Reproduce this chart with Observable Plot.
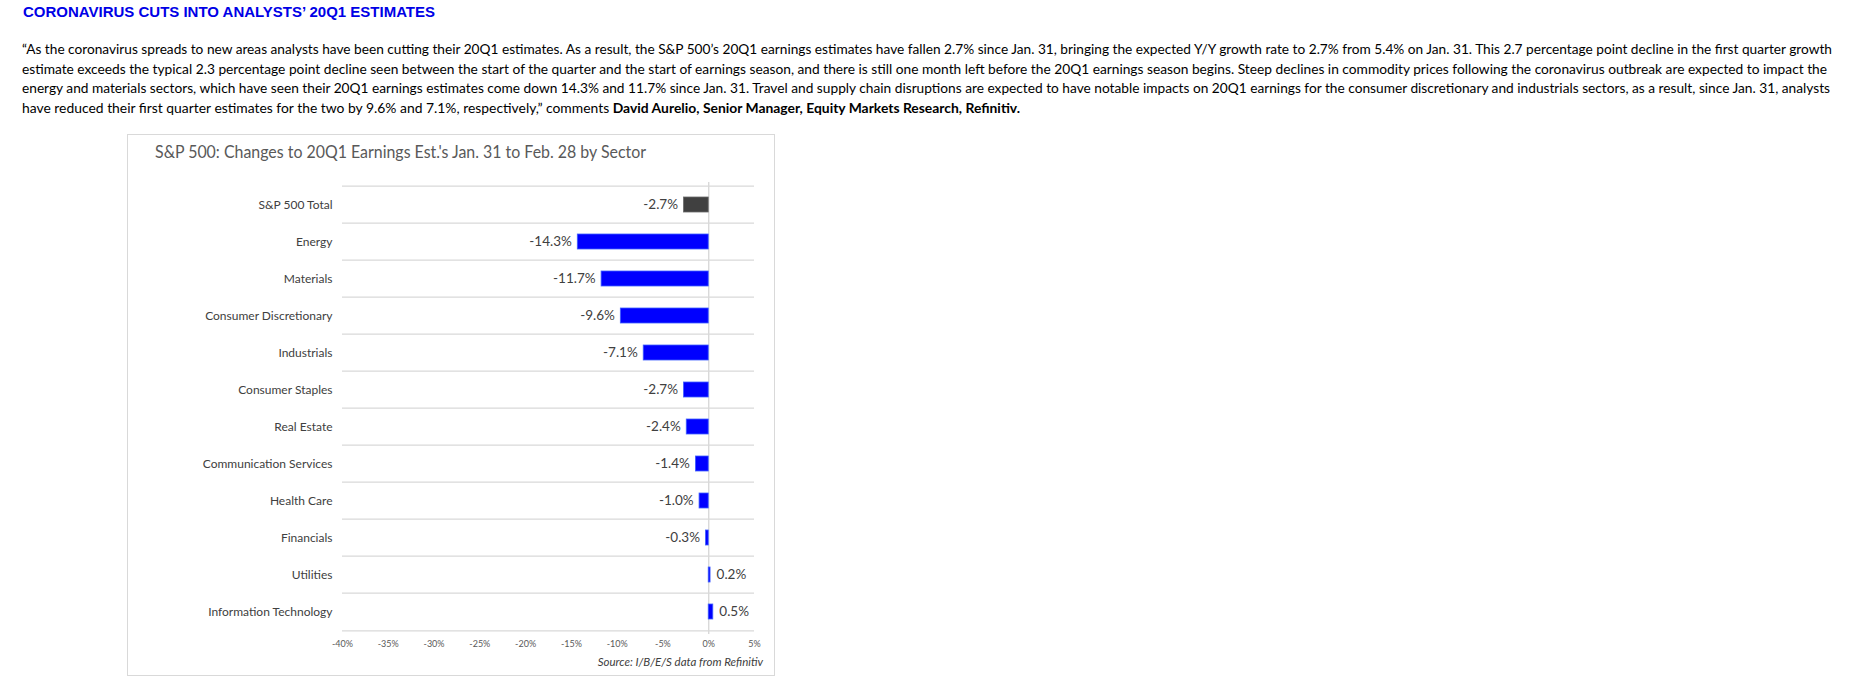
<!DOCTYPE html>
<html>
<head>
<meta charset="utf-8">
<script src="https://cdn.jsdelivr.net/npm/d3@7"></script>
<script src="https://cdn.jsdelivr.net/npm/@observablehq/plot@0.6"></script>
<style>
  html, body { margin: 0; padding: 0; background: #fff; }
  body { width: 1864px; height: 678px; position: relative; overflow: hidden; font-family: Lato, "Noto Sans", sans-serif; }
  #headline { position: absolute; left: 23px; top: 3px; font-family: "Liberation Sans", Arial, sans-serif; font-weight: bold; font-size: 15px; line-height: 17px; color: #0000e6; white-space: nowrap; }
  #para { position: absolute; left: 22px; top: 39px; font-size: 13.8px; line-height: 19.5px; color: #000; }
  .ln { white-space: nowrap; height: 19.5px; }
  .ln span { display: inline-block; transform-origin: 0 50%; }
  #box { position: absolute; left: 127px; top: 134px; width: 648px; height: 542px; box-sizing: border-box; border: 1px solid #d9d9d9; }
  #ctitle { position: absolute; left: 27px; top: 6px; font-size: 17px; line-height: 22px; color: #595959; white-space: nowrap; }
  #ctitle span { display: inline-block; transform-origin: 0 50%; }
  #chart { position: absolute; left: 0; top: 0; }
  #source { position: absolute; right: 11px; top: 520px; font-size: 11.5px; line-height: 13px; font-style: italic; color: #404040; white-space: nowrap; }
</style>
</head>
<body>
<div id="headline"><span>CORONAVIRUS CUTS INTO ANALYSTS’ 20Q1 ESTIMATES</span></div>
<div id="para">
  <div class="ln" data-w="1810"><span>“As the coronavirus spreads to new areas analysts have been cutting their 20Q1 estimates. As a result, the S&amp;P 500’s 20Q1 earnings estimates have fallen 2.7% since Jan. 31, bringing the expected Y/Y growth rate to 2.7% from 5.4% on Jan. 31. This 2.7 percentage point decline in the first quarter growth</span></div>
  <div class="ln" data-w="1805"><span>estimate exceeds the typical 2.3 percentage point decline seen between the start of the quarter and the start of earnings season, and there is still one month left before the 20Q1 earnings season begins. Steep declines in commodity prices following the coronavirus outbreak are expected to impact the</span></div>
  <div class="ln" data-w="1808"><span>energy and materials sectors, which have seen their 20Q1 earnings estimates come down 14.3% and 11.7% since Jan. 31. Travel and supply chain disruptions are expected to have notable impacts on 20Q1 earnings for the consumer discretionary and industrials sectors, as a result, since Jan. 31, analysts</span></div>
  <div class="ln" data-w="998"><span>have reduced their first quarter estimates for the two by 9.6% and 7.1%, respectively,” comments <b>David Aurelio, Senior Manager, Equity Markets Research, Refinitiv.</b></span></div>
</div>
<div id="box">
  <div id="ctitle"><span>S&amp;P 500: Changes to 20Q1 Earnings Est.'s Jan. 31 to Feb. 28 by Sector</span></div>
  <div id="chart"></div>
  <div id="source">Source: I/B/E/S data from Refinitiv</div>
</div>
<script>
const sectors = ["S&P 500 Total", "Energy", "Materials", "Consumer Discretionary", "Industrials", "Consumer Staples", "Real Estate", "Communication Services", "Health Care", "Financials", "Utilities", "Information Technology"];
const changes = [-2.7, -14.3, -11.7, -9.6, -7.1, -2.7, -2.4, -1.4, -1.0, -0.3, 0.2, 0.5];
const xTicks = [-40, -35, -30, -25, -20, -15, -10, -5, 0, 5];
const totalLabel = "S&P 500 Total";

const data = sectors.map((s, i) => ({sector: s, value: changes[i]}));

const W = 646, H = 520, mT = 47, mB = 21, mL = 214, mR = 20;
const step = (H - mT - mB) / sectors.length;

const plot = Plot.plot({
  width: W,
  height: H,
  marginTop: mT,
  marginBottom: mB,
  marginLeft: mL,
  marginRight: mR,
  style: {fontFamily: "Lato, 'Noto Sans', sans-serif", background: "transparent", overflow: "visible"},
  x: {domain: [-40, 5], ticks: xTicks, tickFormat: d => d + "%", tickSize: 0, tickPadding: 6, label: null},
  y: {domain: sectors, paddingInner: 0.6, paddingOuter: 0.3, tickSize: 0, tickPadding: 10, label: null},
  marks: [
    Plot.ruleY(sectors, {y: d => d, dy: -step / 2, stroke: "#d9d9d9", strokeWidth: 1.4}),
    Plot.ruleY([sectors[sectors.length - 1]], {y: d => d, dy: step / 2, stroke: "#d9d9d9", strokeWidth: 1.4}),
    Plot.ruleX([0], {stroke: "#d9d9d9", strokeWidth: 1.4}),
    Plot.barX(data, {
      x: "value", y: "sector",
      fill: d => d.sector === totalLabel ? "#404040" : "#0000ff",
      stroke: d => d.sector === totalLabel ? "#6a6a6a" : "#4060ff",
      strokeWidth: 0.8
    }),
    Plot.text(data.filter(d => d.value < 0), {x: "value", y: "sector", text: d => d.value.toFixed(1) + "%", textAnchor: "end", dx: -6, fontSize: 13.5, fill: "#404040"}),
    Plot.text(data.filter(d => d.value >= 0), {x: "value", y: "sector", text: d => d.value.toFixed(1) + "%", textAnchor: "start", dx: 6, fontSize: 13.5, fill: "#404040"}),
    Plot.axisX({ticks: xTicks, tickFormat: d => d + "%", tickSize: 0, tickPadding: 6, fontSize: 9, fill: "#595959", label: null}),
    Plot.axisY({tickSize: 0, tickPadding: 10, fontSize: 12, fill: "#404040", label: null})
  ]
});
document.getElementById("chart").appendChild(plot);

// fit text lines horizontally to the reference widths
function fit(span, target) {
  const w = span.getBoundingClientRect().width;
  if (w > 0) span.style.transform = `scaleX(${target / w})`;
}
document.querySelectorAll("#para .ln").forEach(ln => fit(ln.querySelector("span"), +ln.dataset.w));
fit(document.querySelector("#ctitle span"), 491);
const hs = document.querySelector("#headline span");
hs.style.display = "inline-block"; hs.style.transformOrigin = "0 50%";
fit(hs, 412);
</script>
</body>
</html>
